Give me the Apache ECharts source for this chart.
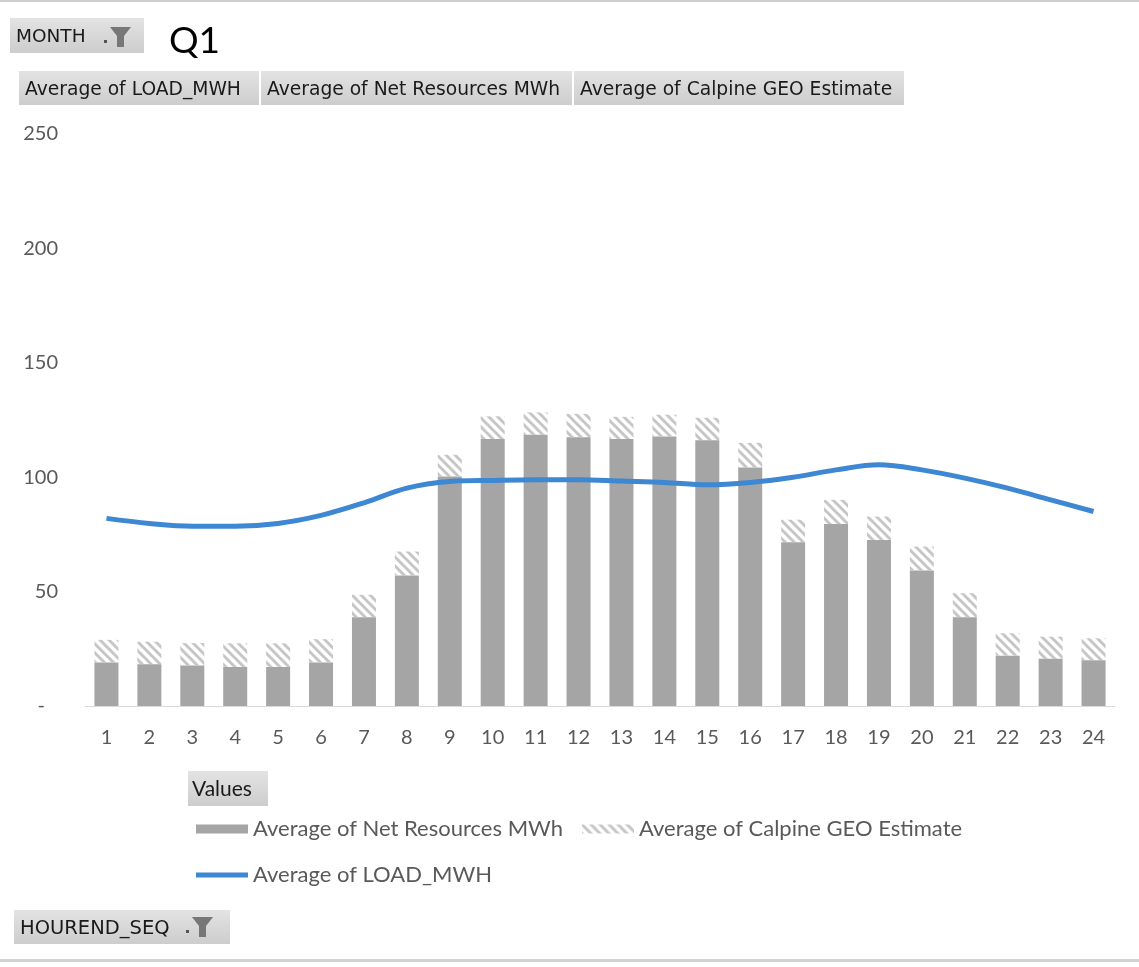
<!DOCTYPE html>
<html>
<head>
<meta charset="utf-8">
<title>Q1 Load vs Net Resources</title>
<script src="https://cdn.jsdelivr.net/npm/echarts@6/dist/echarts.min.js"></script>
<style>
  html, body { margin: 0; padding: 0; background: #ffffff; }
  #chart { width: 1139px; height: 967px; }
</style>
</head>
<body>
<div id="chart"></div>
<script>
// Hour-ending sequence (category axis)
const hours = ['1','2','3','4','5','6','7','8','9','10','11','12','13','14','15','16','17','18','19','20','21','22','23','24'];

// Average of Net Resources MWh per hour
const netResources = [19, 18.3, 17.7, 17.1, 17.1, 19, 38.8, 57, 100.3, 116.7, 118.5, 117.5, 116.7, 117.8, 116.2, 104.2, 71.6, 79.5, 72.6, 59.2, 38.8, 22, 20.6, 20];

// Average of Calpine GEO Estimate per hour (stacked on top of net resources)
const calpineGeo = [9.9, 9.8, 9.8, 10.3, 10.3, 10.2, 9.8, 10.5, 9.5, 9.9, 9.8, 10.2, 9.7, 9.5, 9.8, 10.8, 9.8, 10.6, 10.2, 10.5, 10.5, 9.8, 9.7, 9.6];

// Average of LOAD_MWH per hour
const loadMwh = [82, 79.8, 78.6, 78.6, 79.8, 83.3, 88.8, 95.2, 98.1, 98.6, 98.9, 98.9, 98.3, 97.7, 96.7, 97.7, 100, 103.2, 105.4, 103.2, 99.6, 95.2, 90.1, 85];

// Y-axis ticks
const yMax = 250;
const yStep = 50;

// Series / field names
const nameLoad = 'Average of LOAD_MWH';
const nameNet = 'Average of Net Resources MWh';
const nameGeo = 'Average of Calpine GEO Estimate';

// Wide downward-diagonal hatch used for the GEO estimate
function makeHatch() {
  const c = document.createElement('canvas');
  c.width = 9; c.height = 9;
  const g = c.getContext('2d');
  g.strokeStyle = '#c6c6c6';
  g.lineWidth = 3;
  for (const k of [-9, 0, 9]) {
    g.beginPath();
    g.moveTo(k - 1, -1);
    g.lineTo(k + 10, 10);
    g.stroke();
  }
  return c;
}
const hatch = { image: makeHatch(), repeat: 'repeat' };

const btnFill = {
  type: 'linear', x: 0, y: 0, x2: 0, y2: 1,
  colorStops: [{ offset: 0, color: '#e3e3e3' }, { offset: 1, color: '#cdcdcd' }]
};
const btnFont = '"DejaVu Sans", sans-serif';
const chartFont = 'Lato, "Noto Sans", sans-serif';

function button(x, y, w, h, label, size) {
  return [
    { type: 'rect', shape: { x: x, y: y, width: w, height: h }, style: { fill: btnFill } },
    { type: 'text', x: x + 6, y: y + h / 2 + 2, style: { text: label, fill: '#1a1a1a', font: size + 'px ' + btnFont, verticalAlign: 'middle' } }
  ];
}

function filterIcon(x, y) {
  return [
    { type: 'rect', shape: { x: x, y: y + 13, width: 3, height: 3 }, style: { fill: '#555555' } },
    { type: 'polygon', shape: { points: [[x + 6, y], [x + 27, y], [x + 20, y + 9], [x + 20, y + 20], [x + 13, y + 20], [x + 13, y + 9]] }, style: { fill: '#777777' } }
  ];
}

const graphics = [].concat(
  // frame lines
  [{ type: 'rect', shape: { x: 0, y: 0, width: 1139, height: 2 }, style: { fill: '#cfcfcf' } },
   { type: 'rect', shape: { x: 0, y: 959, width: 1139, height: 3 }, style: { fill: '#d2d2d2' } }],
  button(10, 18, 134, 35, 'MONTH', 18.5),
  filterIcon(104, 27),
  [{ type: 'text', x: 169, y: 41, style: { text: 'Q1', fill: '#000000', font: '37px ' + chartFont, verticalAlign: 'middle' } }],
  button(19, 71, 240, 34, nameLoad, 18.7),
  button(261, 71, 311, 34, nameNet, 18.7),
  button(574, 71, 330, 34, nameGeo, 18.7),
  [{ type: 'rect', shape: { x: 188, y: 771, width: 80, height: 35 }, style: { fill: btnFill } },
   { type: 'text', x: 192, y: 789, style: { text: 'Values', fill: '#1a1a1a', font: '21px ' + chartFont, verticalAlign: 'middle' } }],
  button(14, 910, 216, 34, 'HOUREND_SEQ', 19.5),
  filterIcon(186, 917)
);

const chart = echarts.init(document.getElementById('chart'), null, { renderer: 'canvas' });

chart.setOption({
  backgroundColor: '#ffffff',
  animation: false,
  textStyle: { fontFamily: chartFont },
  grid: { left: 85, right: 24, top: 134, bottom: 261, containLabel: false },
  legend: [
    {
      data: [{ name: nameNet, icon: 'rect' }, { name: nameGeo, icon: 'rect' }],
      left: 196, top: 818, orient: 'horizontal', padding: 0,
      itemWidth: 52, itemHeight: 9, itemGap: 19,
      selectedMode: false,
      textStyle: { fontSize: 22, color: '#595959', fontFamily: chartFont }
    },
    {
      data: [{ name: nameLoad, icon: 'rect' }],
      left: 196, top: 864, orient: 'horizontal', padding: 0,
      itemWidth: 52, itemHeight: 5,
      selectedMode: false,
      textStyle: { fontSize: 22, color: '#595959', fontFamily: chartFont }
    }
  ],
  xAxis: {
    type: 'category',
    data: hours,
    axisLine: { lineStyle: { color: '#d9d9d9', width: 1 } },
    axisTick: { show: false },
    axisLabel: { color: '#595959', fontSize: 20, margin: 22, fontFamily: chartFont },
    splitLine: { show: false }
  },
  yAxis: {
    type: 'value',
    min: 0, max: yMax, interval: yStep,
    axisLine: { show: false },
    axisTick: { show: false },
    splitLine: { show: false },
    axisLabel: {
      color: '#595959', fontSize: 20, margin: 27, fontFamily: chartFont,
      formatter: function (v) { return v === 0 ? '{d|-}' : String(v); },
      rich: { d: { color: '#595959', fontSize: 20, padding: [0, 13, 0, 0], fontFamily: chartFont } }
    }
  },
  series: [
    {
      name: nameNet,
      type: 'bar',
      stack: 'hour',
      barWidth: 24,
      data: netResources,
      itemStyle: { color: '#a5a5a5' },
      z: 2
    },
    {
      name: nameGeo,
      type: 'bar',
      stack: 'hour',
      barWidth: 24,
      data: calpineGeo,
      itemStyle: { color: hatch },
      z: 2
    },
    {
      name: nameLoad,
      type: 'line',
      data: loadMwh,
      smooth: 0.35,
      symbol: 'none',
      lineStyle: { color: '#3d87d3', width: 5 },
      itemStyle: { color: '#3d87d3' },
      z: 5
    }
  ],
  graphic: graphics
});
</script>
</body>
</html>
